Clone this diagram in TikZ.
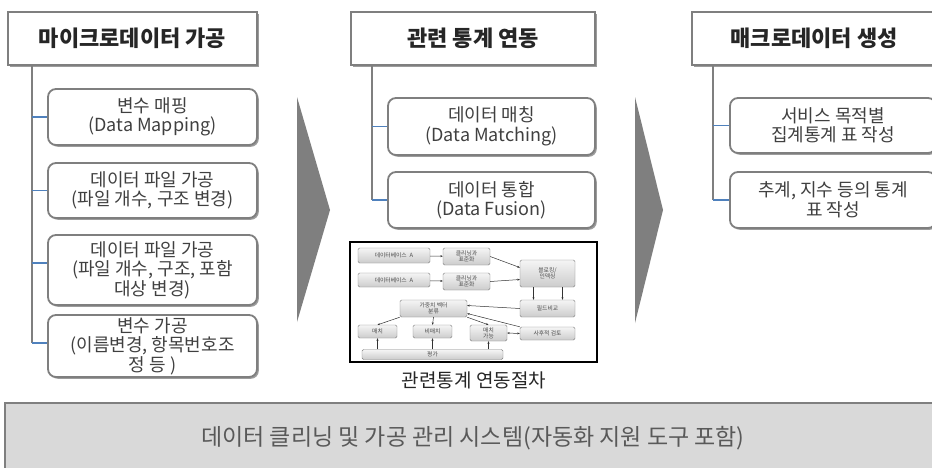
\documentclass[tikz,border=0pt]{standalone}
\usepackage{fontspec}
\setmainfont{Noto Sans CJK KR}
\usetikzlibrary{shadows,calc,arrows.meta}
\definecolor{boxgray}{HTML}{7F7F7F}
\definecolor{tickblue}{HTML}{4F81BD}
\definecolor{txtgray}{HTML}{404040}
\definecolor{botfill}{HTML}{D9D9D9}
\definecolor{bottxt}{HTML}{595959}
\begin{document}
\begin{tikzpicture}[x=1pt,y=-1pt,
  header/.style={draw=boxgray, line width=1.5pt, fill=white, inner sep=0pt,
    minimum height=53pt, font=\fontsize{22}{26}\selectfont\bfseries, text=black!85,
    drop shadow={shadow xshift=1.8pt, shadow yshift=-1.8pt, fill=black!55, opacity=0.7}},
  child/.style={draw=boxgray, line width=1.8pt, fill=white, rounded corners=8pt, inner sep=0pt,
    align=center, font=\fontsize{18}{19.5}\selectfont, text=txtgray,
    drop shadow={shadow xshift=1.8pt, shadow yshift=-1.8pt, fill=black!55, opacity=0.7}},
  trunk/.style={draw=boxgray, line width=1.3pt},
  tick/.style={draw=tickblue, line width=1.3pt},
  chevron/.style={fill=boxgray, draw=none},
  inbox/.style={draw=gray, line width=0.4pt, top color=gray!8, bottom color=gray!40,
    rounded corners=1.5pt, inner sep=0pt, align=center,
    font=\fontsize{5.8}{6.3}\selectfont, text=black!70},
  inarrow/.style={-{Stealth[length=2.5pt,width=2pt]}, line width=0.5pt, black!80},
]
\useasboundingbox (0,0) rectangle (932,467);
\clip (0,0) rectangle (932,467);
\fill[white] (0,0) rectangle (932,467);

% ---------- left column ----------
\node[header, minimum width=249pt] (h1) at (132.5,38.5) {마이크로데이터 가공};
\node[child, minimum width=209pt, minimum height=56pt] (c1) at (152.5,117) {변수 매핑\\(Data Mapping)};
\node[child, minimum width=209pt, minimum height=55pt] (c2) at (152.5,190.5) {데이터 파일 가공\\(파일 개수, 구조 변경)};
\node[child, minimum width=209pt, minimum height=70pt] (c3) at (152.5,270) {데이터 파일 가공\\(파일 개수, 구조, 포함\\대상 변경)};
\node[child, minimum width=209pt, minimum height=62pt] (c4) at (152.5,346) {변수 가공\\(이름변경, 항목번호조\\정 등 )};
\coordinate (t1) at (32,65);
\coordinate (k3) at ($(c3.west)+(0,-7)$);
\coordinate (k4) at ($(c4.west)+(0,-3)$);
\draw[trunk] (t1) -- (t1 |- k4);
\draw[tick] (t1 |- c1.west) -- (c1.west);
\draw[tick] (t1 |- c2.west) -- (c2.west);
\draw[tick] (t1 |- k3) -- (k3);
\draw[tick] (t1 |- k4) -- (k4);

% ---------- chevrons ----------
\fill[chevron] (297,97) -- (330,210) -- (297,322) -- cycle;
\fill[chevron] (635,97) -- (663,210) -- (635,323) -- cycle;

% ---------- middle column ----------
\node[header, minimum width=244pt] (h2) at (473,38.5) {관련 통계 연동};
\node[child, minimum width=207pt, minimum height=57pt] (m1) at (491.5,126.5) {데이터 매칭\\(Data Matching)};
\node[child, minimum width=207pt, minimum height=56pt] (m2) at (491.5,200) {데이터 통합\\(Data Fusion)};
\coordinate (t2) at (372,65);
\draw[trunk] (t2) -- (t2 |- m2.west);
\draw[tick] (t2 |- m1.west) -- (m1.west);
\draw[tick] (t2 |- m2.west) -- (m2.west);

% ---------- right column ----------
\node[header, minimum width=244pt] (h3) at (814,38.5) {매크로데이터 생성};
\node[child, minimum width=206pt, minimum height=55pt] (r1) at (833,125.5) {서비스 목적별\\집계통계 표 작성};
\node[child, minimum width=206pt, minimum height=56pt] (r2) at (833,200) {추계, 지수 등의 통계\\표 작성};
\coordinate (t3) at (713,65);
\draw[trunk] (t3) -- (t3 |- r2.west);
\draw[tick] (t3 |- r1.west) -- (r1.west);
\draw[tick] (t3 |- r2.west) -- (r2.west);

% ---------- embedded procedure diagram ----------
\node[draw=black, line width=1.5pt, fill=white, minimum width=247pt, minimum height=120pt, inner sep=0pt] (frame) at (473.5,302) {};
\node[inbox, minimum width=72pt, minimum height=15pt] (dba) at (394,255.5) {데이터베이스\enspace A};
\node[inbox, minimum width=72pt, minimum height=14pt] (dbb) at (394,280) {데이터베이스\enspace A};
\node[inbox, minimum width=47pt, minimum height=17pt] (cl1) at (466.5,256.5) {클리닝과\\표준화};
\node[inbox, minimum width=47pt, minimum height=17pt] (cl2) at (466.5,281.5) {클리닝과\\표준화};
\node[inbox, minimum width=55pt, minimum height=27pt] (blk) at (547.5,273.5) {블로킹/\\인덱싱};
\node[inbox, minimum width=55pt, minimum height=17pt] (fld) at (547.5,308.5) {필드비교};
\node[inbox, minimum width=67pt, minimum height=17pt] (wgt) at (433.5,308.5) {가중치 벡터\\분류};
\node[inbox, minimum width=39pt, minimum height=13pt] (mt) at (377.5,331.5) {매치};
\node[inbox, minimum width=39pt, minimum height=13pt] (nm) at (432.5,331.5) {비매치};
\node[inbox, minimum width=37pt, minimum height=16pt] (pm) at (488.5,333) {매치\\가능};
\node[inbox, minimum width=55pt, minimum height=13pt] (rev) at (547.5,333.5) {사후적 검토};
\node[inbox, minimum width=141pt, minimum height=10pt] (ev) at (432.5,354.5) {평가};
\draw[inarrow] (dba) -- (cl1);
\draw[inarrow] (dbb) -- (cl2);
\draw[inarrow] (cl1.east) -- ($(blk.west)+(0,-6)$);
\draw[inarrow] (cl2.east) -- ($(blk.west)+(0,6)$);
\draw[inarrow] ($(blk.south)+(-14,0)$) -- ($(fld.north)+(-14,0)$);
\draw[inarrow] ($(blk.south)+(15,0)$) -- ($(fld.north)+(15,0)$);
\draw[inarrow] (fld.west) -- ($(wgt.east)+(0,-3)$);
\draw[inarrow] (rev.north west) -- ($(wgt.east)+(0,5)$);
\draw[inarrow] (wgt.south west) -- (mt.north);
\draw[inarrow] (wgt.south) -- (nm.north);
\draw[inarrow] (wgt.south east) -- (pm.north);
\draw[{Stealth[length=2.5pt,width=2pt]}-{Stealth[length=2.5pt,width=2pt]}, line width=0.5pt, black!80] (pm.east) -- (rev.west);
\draw[inarrow] (ev.north -| mt.south) -- (mt.south);
\draw[inarrow] (ev.north -| nm.south) -- (nm.south);
\draw[inarrow] (ev.north -| pm.south) -- (pm.south);
\node[font=\fontsize{19}{22}\selectfont, text=black!85] (cap) at (474,380) {관련통계 연동절차};

% ---------- bottom bar ----------
\node[fill=botfill, minimum width=940pt, minimum height=66pt, inner sep=0pt] (bar) at (475,436) {};
\draw[boxgray, line width=2pt] (bar.south west) -- (bar.north west) -- (bar.north east);
\node[font=\fontsize{23}{27}\selectfont, text=bottxt] (bartxt) at (473,438) {데이터 클리닝 및 가공 관리 시스템(자동화 지원 도구 포함)};
\end{tikzpicture}
\end{document}
